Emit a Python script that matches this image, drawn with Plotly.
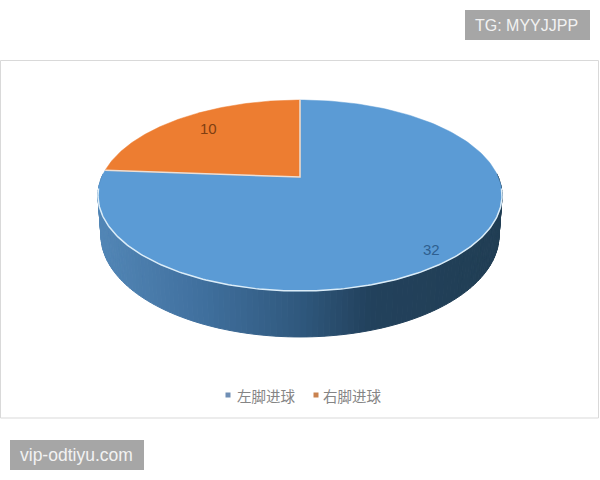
import numpy as np
import plotly.graph_objects as go

labels = ["左脚进球", "右脚进球"]
values = [32, 10]
colors = ["#5b9bd5", "#ed7d31"]
legend_colors = ["#6f8fb5", "#c9824f"]
label_colors = ["#2f5f8f", "#7f3f12"]
label_pos = [(431, 249), (208, 128)]
legend_x = [228, 316]
legend_text_x = [236.5, 322.5]

# side wall shading, left to right
side_x = [98, 200, 300, 370, 502]
side_rgb = [(82, 134, 182), (64, 112, 158), (47, 88, 125), (34, 65, 92), (33, 62, 84)]

# perspective ellipse, fitted from the picture
cx, apex_y = 300, 177
k, a, c = 198.2, -57.6, 0.1937


def rim(theta):
    u, v = np.sin(theta), np.cos(theta)
    return cx + k * u / (1 + c * v), (a * v + apex_y) / (1 + c * v)


def low_rim(theta):
    x, y = rim(theta)
    return cx + (x - cx) * 0.985, 235 + (y - 195) * 1.0625


fig = go.Figure()

# side wall
edges = np.radians(np.linspace(88, 272, 131))
for t0, t1 in zip(edges[:-1], edges[1:]):
    x0, y0 = rim(t0)
    x1, y1 = rim(t1)
    lx0, ly0 = low_rim(t0)
    lx1, ly1 = low_rim(t1)
    mid = (x0 + x1) / 2
    r, g, b = [np.interp(mid, side_x, [s[i] for s in side_rgb]) for i in range(3)]
    col = f"rgb({r:.0f},{g:.0f},{b:.0f})"
    fig.add_trace(go.Scatter(x=[x0, x1, lx1, lx0, x0], y=[y0, y1, ly1, ly0, y0], mode="lines",
                             fill="toself", fillcolor=col, line=dict(color=col, width=1),
                             showlegend=False, hoverinfo="skip"))

# top slices, clockwise from twelve o'clock
start = 0.0
total = sum(values)
for val, name, col in zip(values, labels, colors):
    end = start + val / total * 2 * np.pi
    th = np.linspace(start, end, 200)
    x, y = rim(th)
    fig.add_trace(go.Scatter(x=np.r_[cx, x, cx], y=np.r_[apex_y, y, apex_y], mode="lines",
                             fill="toself", fillcolor=col, line=dict(color=col, width=0.5),
                             showlegend=False, hoverinfo="skip"))
    start = end

# slice borders and the bright front edge
split = values[0] / total * 2 * np.pi
xs, ys = rim(split)
xt, yt = rim(0.0)
fig.add_trace(go.Scatter(x=[xs, cx, xt], y=[ys, apex_y, yt], mode="lines",
                         line=dict(color="#ecdfd5", width=1.5), showlegend=False, hoverinfo="skip"))
front = np.radians(np.linspace(97, 263, 200))
xf, yf = rim(front)
fig.add_trace(go.Scatter(x=xf, y=yf, mode="lines", line=dict(color="#dcedf8", width=1.5),
                         showlegend=False, hoverinfo="skip"))

# legend entries
for name, col, lx, tx in zip(labels, legend_colors, legend_x, legend_text_x):
    fig.add_trace(go.Scatter(x=[lx], y=[395], mode="markers", showlegend=False, hoverinfo="skip",
                             marker=dict(symbol="square", size=5, color=col)))
    fig.add_annotation(x=tx, y=395.5, text=name, showarrow=False, xanchor="left", xshift=-2,
                       font=dict(family="Noto Sans CJK SC", size=14.5, color="#858585"))

for val, col, (lx, ly) in zip(values, label_colors, label_pos):
    fig.add_annotation(x=lx, y=ly, text=str(val), showarrow=False,
                       font=dict(family="Liberation Sans", size=15, color=col))

fig.add_shape(type="rect", x0=0.5, y0=60.5, x1=598.5, y1=418, line=dict(color="#d9d9d9", width=1),
              layer="below")
fig.add_shape(type="rect", x0=465, y0=10, x1=590, y1=40, fillcolor="#a6a6a6", line_width=0)
fig.add_shape(type="rect", x0=10, y0=440, x1=144, y1=470, fillcolor="#a6a6a6", line_width=0)
fig.add_annotation(x=526, y=25, text="TG: MYYJJPP", showarrow=False,
                   font=dict(family="Liberation Sans", size=16, color="#f2f2f2"))
fig.add_annotation(x=76.5, y=455, text="vip-odtiyu.com", showarrow=False,
                   font=dict(family="Liberation Sans", size=17.5, color="#f2f2f2"))

fig.update_xaxes(range=[0, 600], visible=False, fixedrange=True)
fig.update_yaxes(range=[480, 0], visible=False, fixedrange=True)
fig.update_layout(width=600, height=480, margin=dict(l=0, r=0, t=0, b=0),
                  paper_bgcolor="white", plot_bgcolor="white", showlegend=False)
fig.write_html("out.html", config=dict(displayModeBar=False),
               post_script="document.body.style.margin='0';document.body.style.overflow='hidden';")
